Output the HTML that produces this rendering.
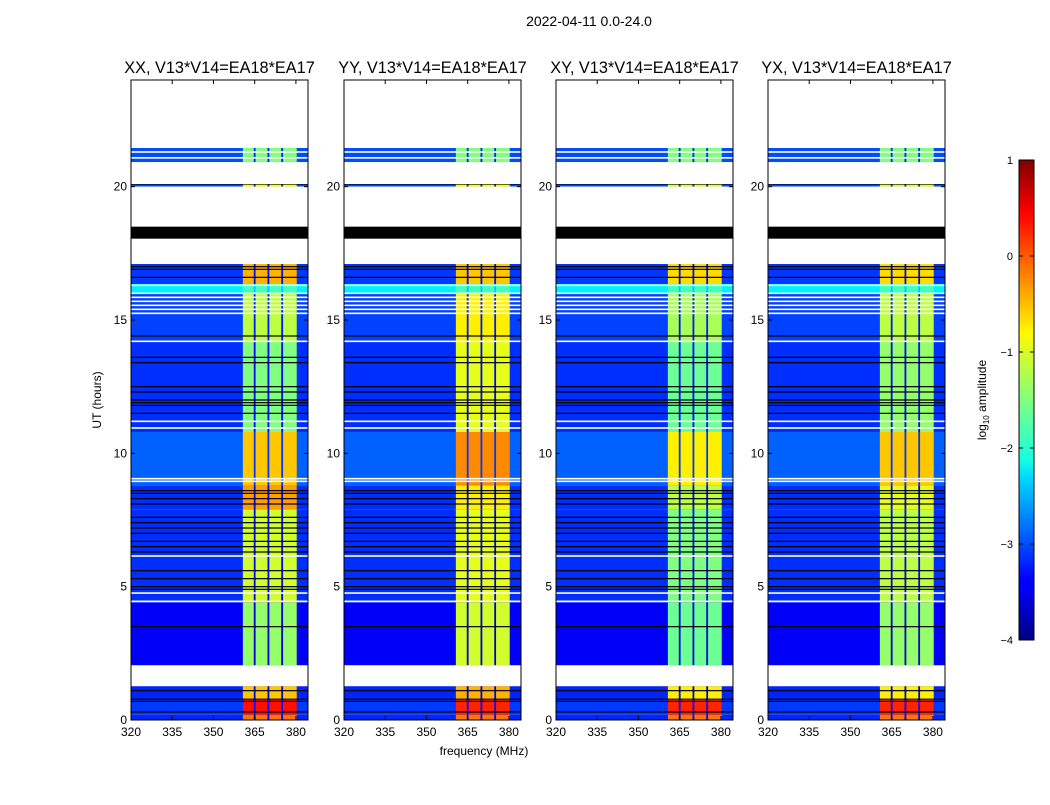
<!DOCTYPE html>
<html><head><meta charset="utf-8"><style>
body{margin:0;background:#fff;font-family:"Liberation Sans",sans-serif;}
svg text{font-family:"Liberation Sans","DejaVu Sans",sans-serif;}
</style></head><body>
<svg id="fig" width="1050" height="800" xmlns="http://www.w3.org/2000/svg">
<defs>
<linearGradient id="jetg" x1="0" y1="1" x2="0" y2="0">
<stop offset="0" stop-color="#00007f"/><stop offset="0.11" stop-color="#0000ff"/>
<stop offset="0.125" stop-color="#0000ff"/><stop offset="0.34" stop-color="#00dbff"/>
<stop offset="0.375" stop-color="#14ffe3"/><stop offset="0.5" stop-color="#7fff7f"/>
<stop offset="0.64" stop-color="#fffa00"/><stop offset="0.75" stop-color="#ff8c00"/>
<stop offset="0.89" stop-color="#ff0000"/>
<stop offset="1" stop-color="#7f0000"/>
</linearGradient>
</defs>
<text x="589" y="26" font-size="14" text-anchor="middle">2022-04-11 0.0-24.0</text>
<text x="484" y="755" font-size="12" text-anchor="middle">frequency (MHz)</text>
<text x="101" y="400" font-size="12" text-anchor="middle" transform="rotate(-90 101 400)">UT (hours)</text>
<g id="panels"></g>
<g id="cbar">
<rect x="1019" y="160" width="15" height="480" fill="url(#jetg)" stroke="#000" stroke-width="1"/>
</g>
<text x="986" y="400" font-size="12" text-anchor="middle" transform="rotate(-90 986 400)">log<tspan font-size="8" dy="3">10</tspan><tspan dy="-3"> amplitude</tspan></text>
</svg>
<script>
const panelTitles=["XX, V13*V14=EA18*EA17","YY, V13*V14=EA18*EA17","XY, V13*V14=EA18*EA17","YX, V13*V14=EA18*EA17"];
const panelLefts=[131,344,556,768];
const freqTicks=[320,335,350,365,380];
const timeTicks=[0,5,10,15,20];
const cbarTicks=[1,0,-1,-2,-3,-4];
// segments: start hour, end hour, background log amplitude
const segStart=[0,0.2,0.75,2.05,4.4,7.9,8.8,10.8,14.2,16.0,16.35,20.0,20.92];
const segEnd=[0.2,0.75,1.27,4.4,7.9,8.8,10.8,14.2,16.0,16.35,17.1,20.1,21.45];
const segBg=[-3.2,-3.1,-3.2,-3.4,-3.15,-3.15,-2.9,-3.15,-3.05,-2.2,-3.1,-3.0,-3.0];
const bandXX=[-0.2,0.3,-0.6,-1.4,-1.1,-0.4,-0.6,-1.5,-1.2,-1.8,-0.5,-0.9,-1.5];
const bandYY=[-0.2,0.2,-0.5,-1.1,-1.0,-0.8,-0.3,-1.0,-0.8,-1.8,-0.6,-0.9,-1.5];
const bandXY=[-0.2,0.2,-0.8,-1.6,-1.5,-1.2,-0.8,-1.6,-1.3,-1.8,-0.7,-1.0,-1.5];
const bandYX=[-0.2,0.2,-0.8,-1.4,-1.2,-1.0,-0.6,-1.4,-1.2,-1.8,-0.7,-1.0,-1.5];
const bandSets=[bandXX,bandYY,bandXY,bandYX];
const bandLo=360.7, bandHi=380.3;
const bandGaps=[365,370,375];
const whiteStart=[1.27,17.1,18.5,20.1,21.45];
const whiteEnd=[2.05,18.05,20.0,20.92,24];
const whiteLines=[4.45,4.76,6.15,8.95,9.05,10.95,11.2,14.2,15.25,15.4,15.55,15.7,15.85,16.0,16.3,21.08,21.3];
const blackBandStart=[18.05], blackBandEnd=[18.5];
const blackLines=[0.3,0.7,0.78,1.1,3.5,4.9,5.0,5.3,5.6,6.3,6.5,6.7,7.0,7.2,7.4,7.6,8.1,8.3,8.5,8.6,11.5,11.8,11.9,12.0,12.3,12.5,13.4,13.6,14.4,16.6,16.9,17.0,20.1];

const fMin=320,fMax=384.4,tMin=0,tMax=24,pTop=80,pBot=720,pW=177;
const NS="http://www.w3.org/2000/svg";
function jet(v){let x=(v+4)/5;x=Math.max(0,Math.min(1,x));
 const r=Math.max(0,Math.min(1,1.5-Math.abs(4*x-3))),g=Math.max(0,Math.min(1,1.5-Math.abs(4*x-2))),b=Math.max(0,Math.min(1,1.5-Math.abs(4*x-1)));
 return `rgb(${Math.round(r*255)},${Math.round(g*255)},${Math.round(b*255)})`;}
function el(tag,attrs,parent){const e=document.createElementNS(NS,tag);for(const k in attrs)e.setAttribute(k,attrs[k]);parent.appendChild(e);return e;}
const root=document.getElementById('panels');
panelLefts.forEach((L,p)=>{
 const xs=f=>L+(f-fMin)/(fMax-fMin)*pW;
 const ys=t=>pBot-(t-tMin)/(tMax-tMin)*(pBot-pTop);
 const g=el('g',{},root);
 
 
 const bands=bandSets[p];
 segStart.forEach((s,i)=>{
  const y0=ys(segEnd[i]),h=ys(s)-y0;
  const bg=el('rect',{x:L,y:y0,width:pW,height:h,fill:jet(segBg[i])},g);
  
  
  const b=el('rect',{x:xs(bandLo),y:y0,width:xs(bandHi)-xs(bandLo),height:h,fill:jet(bands[i])},g);
  
  
  bandGaps.forEach(f=>{
   const d=el('rect',{x:xs(f)-0.9,y:y0,width:1.8,height:h,fill:jet(segBg[i]-0.2)},g);
   
   
  });
 });
 whiteLines.forEach(t=>{const r=el('rect',{x:L,y:ys(t)-0.8,width:pW,height:1.6,fill:'#fff'},g);
  
  });
 blackLines.forEach(t=>{const r=el('rect',{x:L,y:ys(t)-0.6,width:pW,height:1.2,fill:'#000'},g);
  
  });
 whiteStart.forEach((s,i)=>{const r=el('rect',{x:L,y:ys(whiteEnd[i]),width:pW,height:ys(s)-ys(whiteEnd[i]),fill:'#fff'},g);
  
  });
 blackBandStart.forEach((s,i)=>{const r=el('rect',{x:L,y:ys(blackBandEnd[i]),width:pW,height:ys(s)-ys(blackBandEnd[i]),fill:'#000'},g);
  
  });
 const fr=el('rect',{x:L,y:pTop,width:pW,height:pBot-pTop,fill:'none',stroke:'#000','stroke-width':1},g);
 
 
 freqTicks.forEach(f=>{const x=xs(f);
  el('line',{x1:x,y1:pBot,x2:x,y2:pBot-4,stroke:'#000'},g);
  el('line',{x1:x,y1:pTop,x2:x,y2:pTop+4,stroke:'#000'},g);
  const t=el('text',{x:x,y:pBot+16,'font-size':12,'text-anchor':'middle'},g);t.textContent=f;
  
  });
 timeTicks.forEach(v=>{const y=ys(v);
  el('line',{x1:L,y1:y,x2:L+4,y2:y,stroke:'#000'},g);
  el('line',{x1:L+pW,y1:y,x2:L+pW-4,y2:y,stroke:'#000'},g);
  const t=el('text',{x:L-4,y:y+4,'font-size':12,'text-anchor':'end'},g);t.textContent=v;
  
  });
 const tt=el('text',{x:L+pW/2,y:73,'font-size':16.3,'text-anchor':'middle'},g);tt.textContent=panelTitles[p];
 
 
});
const cb=document.getElementById('cbar');
cbarTicks.forEach(v=>{const y=640-(v+4)/5*480;
 el('line',{x1:1019,y1:y,x2:1023,y2:y,stroke:'#000'},cb);
 el('line',{x1:1034,y1:y,x2:1030,y2:y,stroke:'#000'},cb);
 const t=el('text',{x:1013,y:y+4,'font-size':11,'text-anchor':'end'},cb);t.textContent=(v<0?'\u2212'+(-v):v);
 
 });
</script>
</body></html>
